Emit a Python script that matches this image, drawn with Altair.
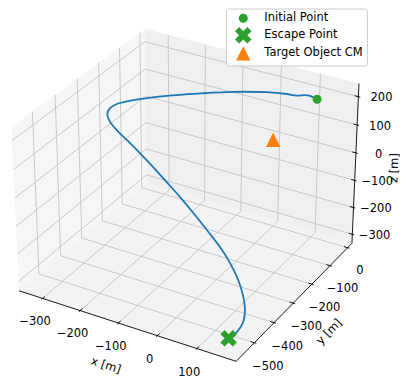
import numpy as np
import pandas as pd
import altair as alt

# ---------------- data (metres) ----------------
traj_x = [105, 89, 79, 60, 36, -8, -82, -152, -216, -275, -300, -304, -297, -279,
          -251, -215, -170, -126, -82, -39, 3, 46, 84, 115, 141, 160, 171, 176, 173, 164]
traj_y = [0, -5, -10, -15, -20, -35, -60, -95, -140, -195, -230, -255, -280, -300,
          -318, -335, -355, -373, -390, -407, -423, -440, -450, -461, -472, -484, -497, -515, -538, -562]
traj_z = [172, 181, 183, 177, 177, 176, 165, 154, 148, 143, 140, 138, 135, 126,
          117, 106, 89, 68, 43, 18, -10, -41, -78, -114, -155, -197, -230, -258, -277, -288]
target_cm = [-5, 0, -14]
point_labels = ["Initial Point", "Escape Point", "Target Object CM"]
point_colors = ["#2ca02c", "#2ca02c", "#ff7f0e"]

x_ticks = [-300, -200, -100, 0, 100]
y_ticks = [-500, -400, -300, -200, -100, 0]
z_ticks = [-300, -200, -100, 0, 100, 200]
x_lim = [-364, 197]
y_lim = [-590, 25]
z_lim = [-334, 246]
axis_titles = ["x [m]", "y [m]", "z [m]"]

# ---------------- camera (matplotlib default 3-D view) ----------------
ELEV, AZIM, DIST = 30.0, -60.0, 10.0
CX, CY, SCALE = 188.4, 187.45, 2178.0   # screen centre / scale in px
W, H, M = 392, 371, 8
FONT = "DejaVu Sans"
FS = 11.5

aspect = np.array([4.0, 4.0, 3.0])
aspect = 1.8294640721620434 * aspect / np.linalg.norm(aspect)
centre = aspect / 2
el, az = np.deg2rad(ELEV), np.deg2rad(AZIM)
w_ax = np.array([np.cos(el) * np.cos(az), np.cos(el) * np.sin(az), np.sin(el)])
u_ax = np.cross([0.0, 0.0, 1.0], w_ax)
u_ax /= np.linalg.norm(u_ax)
v_ax = np.cross(w_ax, u_ax)


def project(x, y, z):
    x, y, z = np.broadcast_arrays(np.asarray(x, float), np.asarray(y, float), np.asarray(z, float))
    q = np.stack([
        (x - x_lim[0]) / (x_lim[1] - x_lim[0]) * aspect[0],
        (y - y_lim[0]) / (y_lim[1] - y_lim[0]) * aspect[1],
        (z - z_lim[0]) / (z_lim[1] - z_lim[0]) * aspect[2]], axis=-1) - centre
    den = DIST - q @ w_ax
    return CX + SCALE * (q @ u_ax) / den, CY - SCALE * (q @ v_ax) / den


xs = alt.Scale(domain=[M, M + W], nice=False, zero=False)
ys = alt.Scale(domain=[M, M + H], nice=False, zero=False, reverse=True)
X = lambda f: alt.X(f, scale=xs, axis=None)
Y = lambda f: alt.Y(f, scale=ys, axis=None)

x0, x1 = x_lim
y0, y1 = y_lim
z0, z1 = z_lim
xr, yr, zr = x1 - x0, y1 - y0, z1 - z0
dx, dy, dz = xr / 12, yr / 12, zr / 12

# ---------------- panes ----------------
panes = {
    "#f6f6f7": [(x0, y0, z0), (x0, y1, z0), (x0, y1, z1), (x0, y0, z1)],
    "#eff0f2": [(x0, y1, z0), (x1, y1, z0), (x1, y1, z1), (x0, y1, z1)],
    "#f3f3f5": [(x0, y0, z0), (x1, y0, z0), (x1, y1, z0), (x0, y1, z0)],
}


def pane_rows(corners):
    px, py = project(*np.array(corners, float).T)
    verts = list(zip(px, py))
    rows = []
    for xv in sorted(px):
        hits = []
        for i in range(len(verts)):
            (ax_, ay_), (bx_, by_) = verts[i], verts[(i + 1) % len(verts)]
            lo, hi = min(ax_, bx_), max(ax_, bx_)
            if lo - 1e-9 <= xv <= hi + 1e-9:
                if hi - lo < 1e-9:
                    hits += [ay_, by_]
                else:
                    hits.append(ay_ + (by_ - ay_) * (xv - ax_) / (bx_ - ax_))
        rows.append({"x": xv, "y": min(hits), "y2": max(hits)})
    return pd.DataFrame(rows)


layers = []
for col, corners in panes.items():
    layers.append(alt.Chart(pane_rows(corners)).mark_area(color=col, opacity=1, interpolate="linear")
                  .encode(x=X("x:Q"), y=Y("y:Q"), y2="y2:Q"))


def seg_df(segs):
    rows = []
    for a, b in segs:
        ax_, ay_ = project(*a)
        bx_, by_ = project(*b)
        rows.append({"x": float(ax_), "y": float(ay_), "x2": float(bx_), "y2": float(by_)})
    return pd.DataFrame(rows)


# ---------------- grid ----------------
grid = []
for t in x_ticks:
    grid += [((t, y1, z0), (t, y1, z1)), ((t, y0, z0), (t, y1, z0))]
for t in y_ticks:
    grid += [((x0, t, z0), (x0, t, z1)), ((x0, t, z0), (x1, t, z0))]
for t in z_ticks:
    grid += [((x0, y0, t), (x0, y1, t)), ((x0, y1, t), (x1, y1, t))]
layers.append(alt.Chart(seg_df(grid)).mark_rule(color="#c4c4c4", strokeWidth=0.9)
              .encode(x=X("x:Q"), y=Y("y:Q"), x2="x2:Q", y2="y2:Q"))

# ---------------- axis lines + ticks ----------------
axes = [((x0, y0, z0), (x1, y0, z0)), ((x1, y0, z0), (x1, y1, z0)), ((x1, y1, z0), (x1, y1, z1))]
for t in x_ticks:
    axes.append(((t, y0 + 0.2 * dy, z0), (t, y0 - 0.1 * dy, z0)))
for t in y_ticks:
    axes.append(((x1 - 0.2 * dx, t, z0), (x1 + 0.1 * dx, t, z0)))
for t in z_ticks:
    axes.append(((x1 - 0.2 * dx, y1, t), (x1 + 0.1 * dx, y1, t)))
layers.append(alt.Chart(seg_df(axes)).mark_rule(color="#000000", strokeWidth=0.9)
              .encode(x=X("x:Q"), y=Y("y:Q"), x2="x2:Q", y2="y2:Q"))

# ---------------- tick labels ----------------
fmt = lambda v: str(v).replace("-", "\u2212")
lab = []
for t in x_ticks:
    px, py = project(t, y0 - 0.060 * yr, z0 - 0.104 * zr)
    lab.append({"x": float(px), "y": float(py), "t": fmt(t)})
for t in y_ticks:
    px, py = project(x1 + 0.061 * xr, t, z0 - 0.125 * zr)
    lab.append({"x": float(px), "y": float(py), "t": fmt(t)})
for t in z_ticks:
    px, py = project(x1 + 0.0865 * xr, y1 + 0.0334 * yr, t)
    lab.append({"x": float(px), "y": float(py), "t": fmt(t)})
layers.append(alt.Chart(pd.DataFrame(lab)).mark_text(font=FONT, fontSize=FS, color="#000000",
                                                     align="center", baseline="middle")
              .encode(x=X("x:Q"), y=Y("y:Q"), text="t:N"))

# ---------------- axis titles ----------------
tl = []
px, py = project((x0 + x1) / 2 + 0.025 * xr, y0 - 0.184 * yr, z0 - 0.100 * zr)
tl.append({"x": float(px), "y": float(py), "t": axis_titles[0], "a": 18})
px, py = project(x1 + 0.1695 * xr, (y0 + y1) / 2 - 0.038 * yr, z0 - 0.103 * zr)
tl.append({"x": float(px), "y": float(py), "t": axis_titles[1], "a": 314})
px, py = project(x1 + 0.150 * xr, y1 + 0.058 * yr, (z0 + z1) / 2)
tl.append({"x": float(px), "y": float(py), "t": axis_titles[2], "a": 272})
layers.append(alt.Chart(pd.DataFrame(tl)).mark_text(font=FONT, fontSize=FS, color="#000000",
                                                    align="center", baseline="middle")
              .encode(x=X("x:Q"), y=Y("y:Q"), text="t:N", angle=alt.Angle("a:Q", scale=None)))

# ---------------- trajectory ----------------
tx, ty = project(traj_x, traj_y, traj_z)
traj_df = pd.DataFrame({"x": tx, "y": ty, "i": np.arange(len(tx))})
layers.append(alt.Chart(traj_df).mark_line(color="#1f77b4", strokeWidth=1.8, interpolate="catmull-rom")
              .encode(x=X("x:Q"), y=Y("y:Q"), order="i:Q"))

# ---------------- markers + legend ----------------
mx, my = project([traj_x[0], traj_x[-1], target_cm[0]],
                 [traj_y[0], traj_y[-1], target_cm[1]],
                 [traj_z[0], traj_z[-1], target_cm[2]])
mk_df = pd.DataFrame({"x": mx, "y": my, "label": point_labels})
circle_path = "M0.9,0A0.9,0.9,0,1,1,-0.9,0A0.9,0.9,0,1,1,0.9,0Z"
x_path = ("M0,-0.825L0.825,-1.65L1.65,-0.825L0.825,0L1.65,0.825L0.825,1.65L0,0.825"
          "L-0.825,1.65L-1.65,0.825L-0.825,0L-1.65,-0.825L-0.825,-1.65Z")
tri_path = "M0,-1.43L1.43,1.43L-1.43,1.43Z"
legend = alt.Legend(orient="none", legendX=218, legendY=0.5, title=None, padding=4,
                    symbolOffset=7.5, labelOffset=15.3, rowPadding=2.1,
                    strokeColor="#cccccc", fillColor="rgba(255,255,255,0.8)", cornerRadius=3,
                    labelFont=FONT, labelFontSize=FS, labelColor="#000000",
                    symbolSize=100, symbolStrokeWidth=0, symbolOpacity=1)
layers.append(alt.Chart(mk_df).mark_point(filled=True, opacity=1, size=100, strokeWidth=0)
              .encode(x=X("x:Q"), y=Y("y:Q"),
                      color=alt.Color("label:N", scale=alt.Scale(domain=point_labels, range=point_colors),
                                      legend=legend),
                      shape=alt.Shape("label:N", scale=alt.Scale(domain=point_labels,
                                                                 range=[circle_path, x_path, tri_path]),
                                      legend=legend)))

chart = (alt.layer(*layers)
         .properties(width=W, height=H, padding=0, autosize=alt.AutoSizeParams(type="none"))
         .configure_view(strokeWidth=0))
chart.save("out.html", embed_options={"renderer": "svg", "actions": False})
